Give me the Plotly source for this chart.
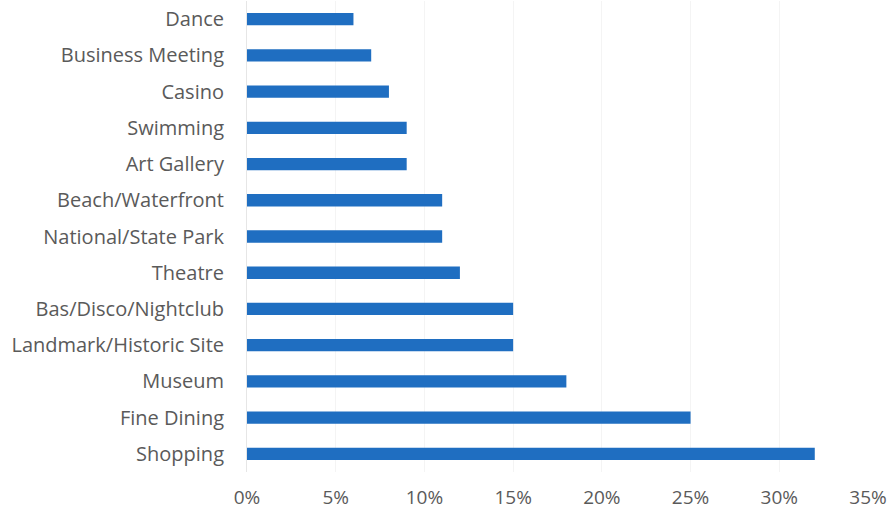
import plotly.graph_objects as go

# Activities, listed bottom-to-top as plotted
activities = [
    "Shopping", "Fine Dining", "Museum", "Landmark/Historic Site",
    "Bas/Disco/Nightclub", "Theatre", "National/State Park",
    "Beach/Waterfront", "Art Gallery", "Swimming", "Casino",
    "Business Meeting", "Dance",
]
shares = [0.32, 0.25, 0.18, 0.15, 0.15, 0.12, 0.11, 0.11, 0.09, 0.09, 0.08, 0.07, 0.06]
x_ticks = [0, 0.05, 0.10, 0.15, 0.20, 0.25, 0.30, 0.35]

fig = go.Figure(
    go.Bar(
        x=shares,
        y=activities,
        orientation="h",
        width=0.34,
        marker=dict(color="#1F6EC1", line=dict(width=0)),
    )
)

fig.update_layout(
    width=890,
    height=514,
    margin=dict(l=247, r=22, t=1, b=42),
    paper_bgcolor="white",
    plot_bgcolor="white",
    showlegend=False,
    font=dict(family="Open Sans, sans-serif", size=19, color="#5a5a5a"),
)
fig.update_xaxes(
    range=[0, 0.35],
    tickvals=x_ticks,
    tickformat=".0%",
    showgrid=True,
    gridcolor="#f4f4f4",
    gridwidth=1,
    zeroline=False,
    showline=False,
    ticks="",
    ticklabelstandoff=12,
    tickfont=dict(size=19, color="#5a5a5a"),
)
fig.update_yaxes(
    categoryorder="array",
    categoryarray=activities,
    range=[-0.5, 12.5],
    showgrid=False,
    showline=True,
    linecolor="#e6e6e6",
    linewidth=1,
    ticks="",
    ticklabelstandoff=18,
    tickfont=dict(size=20, color="#5a5a5a"),
)

fig.write_html("out.html")
